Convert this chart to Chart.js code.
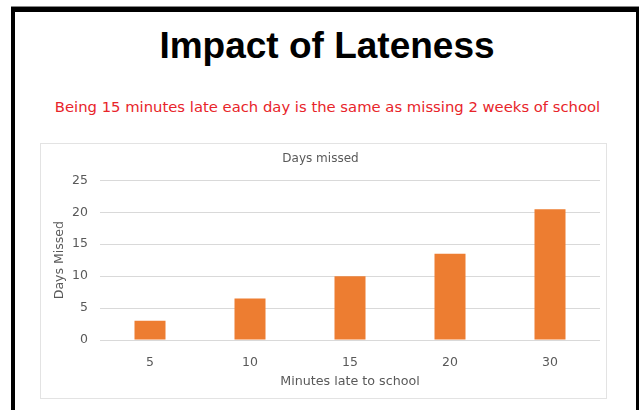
<!DOCTYPE html>
<html>
<head>
<meta charset="utf-8">
<script src="https://cdn.jsdelivr.net/npm/chart.js@4"></script>
<style>
  html, body { margin: 0; padding: 0; background: #fff; width: 640px; height: 410px; overflow: hidden; }
  #frame { position: absolute; left: 11px; top: 7px; width: 621px; height: 420px;
           border-top: 5px solid #000; border-left: 4px solid #000; border-right: 3px solid #000; box-sizing: content-box; }
  #topline { position: absolute; left: 11px; top: 6px; width: 628px; height: 1px; background: #888; }
  #title { position: absolute; left: 0; width: 654px; top: 27px; line-height: 37px; text-align: center;
           font-family: 'Comic Sans MS', 'Liberation Sans', sans-serif; font-weight: bold; font-size: 37px; color: #000; }
  #subtitle { position: absolute; left: 0; width: 655px; top: 98px; line-height: 18px; text-align: center;
           font-family: 'Comic Sans MS', 'DejaVu Sans', sans-serif; font-size: 14.8px; color: #e8242a; }
  #box { position: absolute; left: 40px; top: 143px; width: 565px; height: 254px; border: 1px solid #e3e3e3; }
</style>
</head>
<body>
<div id="topline"></div>
<div id="frame"></div>
<div id="title">Impact of Lateness</div>
<div id="subtitle">Being 15 minutes late each day is the same as missing 2 weeks of school</div>
<div id="box"><canvas id="c"></canvas></div>
<script>
const categories = ['5', '10', '15', '20', '30'];
const daysMissed = [3, 6.5, 10, 13.5, 20.5];
const yTicks = [0, 5, 10, 15, 20, 25];
const chartTitle = 'Days missed';
const xTitle = 'Minutes late to school';
const yTitle = 'Days Missed';

const FONT = "'Comic Sans MS', 'DejaVu Sans', sans-serif";
const GREY = '#595959';

new Chart(document.getElementById('c'), {
  type: 'bar',
  data: {
    labels: categories,
    datasets: [{
      label: chartTitle,
      data: daysMissed,
      backgroundColor: '#ED7D31',
      borderWidth: 0,
      barPercentage: 0.31,
      categoryPercentage: 1
    }]
  },
  options: {
    responsive: true,
    maintainAspectRatio: false,
    animation: false,
    layout: { padding: { left: 0, right: 6, top: 0, bottom: 0 } },
    plugins: {
      legend: { display: false },
      tooltip: { enabled: false },
      title: {
        display: true, text: chartTitle, color: GREY,
        font: { family: FONT, size: 12, weight: 'normal' },
        padding: { top: 8, bottom: 14 }
      }
    },
    scales: {
      x: {
        grid: { display: false, drawTicks: false },
        border: { display: false },
        ticks: { color: GREY, font: { family: FONT, size: 12.5 }, padding: 15 },
        title: { display: true, text: xTitle, color: GREY, font: { family: FONT, size: 12.7 }, padding: { top: 4, bottom: 9 } },
        afterFit: s => { s.height = 58; }
      },
      y: {
        min: 0, max: 25,
        afterBuildTicks: s => { s.ticks = yTicks.map(v => ({ value: v })); },
        grid: { color: '#d9d9d9', drawTicks: false, lineWidth: 1 },
        border: { display: false },
        ticks: { color: GREY, font: { family: FONT, size: 12.5 }, padding: 12 },
        title: { display: true, text: yTitle, color: GREY, font: { family: FONT, size: 12.5 }, padding: { top: 11, bottom: 4 } },
        afterFit: s => { s.width = 59; }
      }
    }
  }
});
</script>
</body>
</html>
